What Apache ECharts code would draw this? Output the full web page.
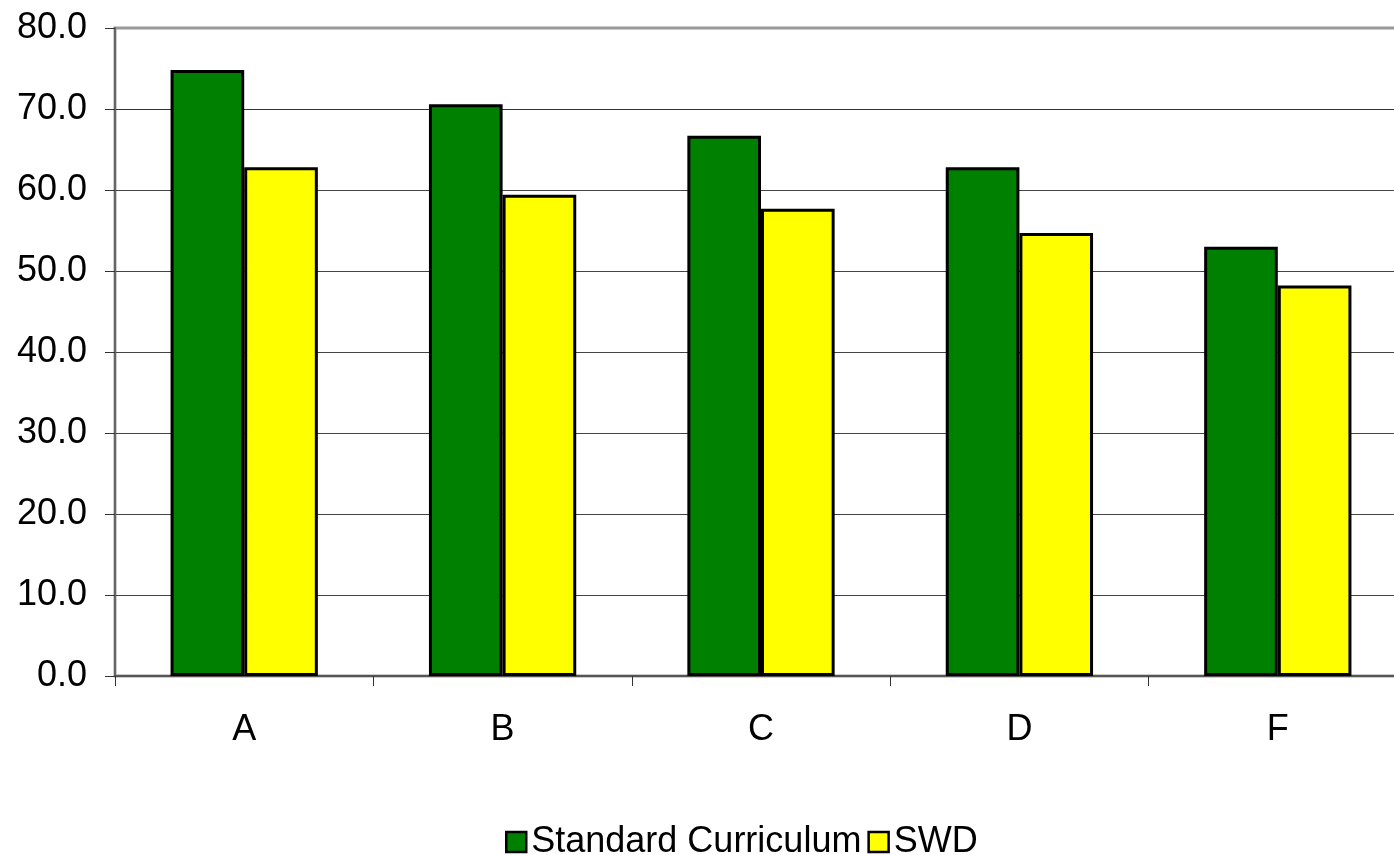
<!DOCTYPE html>
<html><head><meta charset="utf-8">
<script src="https://cdn.jsdelivr.net/npm/echarts@6/dist/echarts.min.js"></script>
<style>html,body{margin:0;padding:0;background:#fff}#c{width:1394px;height:855px}</style>
</head><body><div id="c"></div>
<script>
const categories = ['A','B','C','D','F'];
const standardCurriculum = [74.8, 70.6, 66.7, 62.8, 53.0];
const swd = [62.8, 59.4, 57.7, 54.7, 48.2];
const yTicks = {min: 0, max: 80, interval: 10};

const chart = echarts.init(document.getElementById('c'));
const font = '"Liberation Sans", Arial, sans-serif';
chart.setOption({
  animation: false,
  backgroundColor: '#fff',
  grid: {left: 115, width: 1292, top: 28, height: 648, containLabel: false, outerBoundsMode: 'none',
         show: true, borderColor: '#999', borderWidth: 3, backgroundColor: 'transparent'},
  legend: {
    left: 500, top: 819, itemWidth: 20, itemHeight: 20, itemGap: 6,
    icon: 'rect',
    itemStyle: {borderColor: '#000', borderWidth: 2.5},
    textStyle: {fontFamily: font, fontSize: 36, color: '#000'},
    data: ['Standard Curriculum', 'SWD']
  },
  xAxis: {
    type: 'category', data: categories,
    axisLine: {lineStyle: {color: '#555', width: 2}},
    axisTick: {show: true, length: 10, lineStyle: {color: '#333', width: 1}},
    axisLabel: {fontFamily: font, fontSize: 36, color: '#000', margin: 36}
  },
  yAxis: {
    type: 'value', min: yTicks.min, max: yTicks.max, interval: yTicks.interval,
    axisLine: {show: true, lineStyle: {color: '#666', width: 2}},
    axisTick: {show: true, length: 10, lineStyle: {color: '#333'}},
    axisLabel: {fontFamily: font, fontSize: 36, color: '#000', margin: 28,
      formatter: v => v.toFixed(1)},
    splitLine: {lineStyle: {color: ['#555','#444','#444','#444','#444','#444','#444','#333','#999'], width: 1}}
  },
  series: [
    {name: 'Standard Curriculum', type: 'bar', data: standardCurriculum,
     barWidth: '28.5%', barGap: '0%',
     itemStyle: {color: '#008000', borderColor: '#000', borderWidth: 3}},
    {name: 'SWD', type: 'bar', data: swd,
     barWidth: '28.5%', barGap: '0%',
     itemStyle: {color: '#FFFF00', borderColor: '#000', borderWidth: 3}}
  ]
});
</script></body></html>
